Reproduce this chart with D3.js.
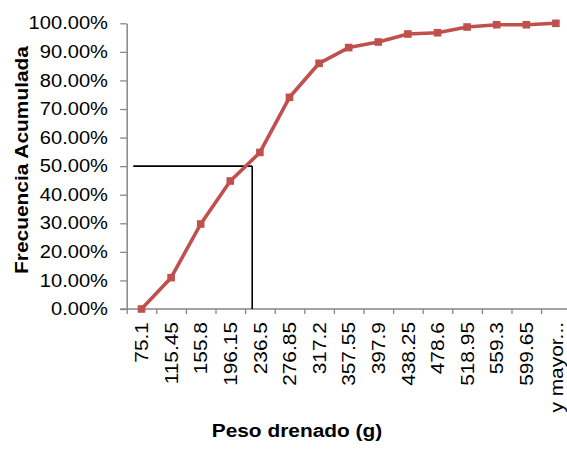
<!DOCTYPE html>
<html><head><meta charset="utf-8">
<script src="https://cdn.jsdelivr.net/npm/d3@7"></script>
<style>
html,body{margin:0;padding:0;background:#fff;}
text{font-family:Arial,"Liberation Sans",sans-serif;}
</style></head>
<body>
<svg id="chart" width="567" height="450"></svg>
<script>
const categories = ["75.1","115.45","155.8","196.15","236.5","276.85","317.2","357.55","397.9","438.25","478.6","518.95","559.3","599.65","y mayor..."];
const cumFreq = [0, 0.1097, 0.2975, 0.448, 0.548, 0.741, 0.860, 0.915, 0.9345, 0.9625, 0.967, 0.987, 0.995, 0.995, 1.0];
const yTicks = [0,0.1,0.2,0.3,0.4,0.5,0.6,0.7,0.8,0.9,1.0];
// median reference lines: category position (center index units) and percentage
const refXStart = -0.28, refXMedian = 3.74, refY = 0.5;
const xTitle = "Peso drenado (g)";
const yTitle = "Frecuencia Acumulada";

(function(){
const svg = d3.select("#chart");
const plotLeft = 126.7, bandW = 29.6, plotTop = 23.3, plotBottom = 309;
const stretch = 1.13;
const n = categories.length;
const xPos = d3.scaleLinear().domain([-0.5, n - 0.5]).range([plotLeft, plotLeft + n * bandW]);
const y = d3.scaleLinear().domain([0, 1]).range([plotBottom, plotTop]);
const axisColor = "#868686";

const xAxis = d3.axisBottom(xPos)
  .tickValues(d3.range(n + 1).map(i => i - 0.5))
  .tickFormat("").tickSize(5).tickSizeOuter(0);
const gx = svg.append("g").attr("transform", `translate(0,${plotBottom})`).call(xAxis);
gx.select(".domain").remove();
gx.selectAll(".tick line").attr("stroke", axisColor).attr("stroke-width", 1.3);
svg.append("line").attr("x1", plotLeft - 6.5).attr("x2", 567).attr("y1", plotBottom).attr("y2", plotBottom)
  .attr("stroke", axisColor).attr("stroke-width", 1.5);

svg.append("g").selectAll("text").data(categories).join("text")
  .attr("transform", (d, i) => `translate(${xPos(i)},322) rotate(-90) scale(${stretch},1)`)
  .attr("text-anchor", "end").attr("dy", "0.36em")
  .attr("font-size", "18.5px").attr("fill", "#000").text(d => d);

const yAxis = d3.axisLeft(y).tickValues(yTicks)
  .tickFormat(d => (d * 100).toFixed(2) + "%").tickSize(6.5).tickPadding(12).tickSizeOuter(0);
const gy = svg.append("g").attr("transform", `translate(${plotLeft},0)`).call(yAxis);
gy.select(".domain").attr("stroke", axisColor).attr("stroke-width", 1.5);
gy.selectAll(".tick line").attr("stroke", axisColor).attr("stroke-width", 1.3);
gy.selectAll(".tick text").attr("font-size", "17.8px").attr("fill", "#000")
  .attr("x", -18.7 / stretch).attr("transform", `scale(${stretch},1)`);

svg.append("line").attr("x1", xPos(refXStart)).attr("x2", xPos(refXMedian))
  .attr("y1", y(refY)).attr("y2", y(refY)).attr("stroke", "#000").attr("stroke-width", 1.6);
svg.append("line").attr("x1", xPos(refXMedian)).attr("x2", xPos(refXMedian))
  .attr("y1", y(refY)).attr("y2", y(0)).attr("stroke", "#000").attr("stroke-width", 1.6);

const red = "#C0504D";
svg.append("path").datum(cumFreq)
  .attr("d", d3.line().x((d, i) => xPos(i)).y(d => y(d)))
  .attr("fill", "none").attr("stroke", red).attr("stroke-width", 3.6).attr("stroke-linejoin", "round");
svg.append("g").selectAll("rect").data(cumFreq).join("rect")
  .attr("x", (d, i) => xPos(i) - 3.8).attr("y", d => y(d) - 3.8)
  .attr("width", 7.6).attr("height", 7.6).attr("fill", red);

svg.append("text").attr("transform", `translate(297,437) scale(${stretch},1)`)
  .attr("text-anchor", "middle").attr("font-size", "18.5px").attr("font-weight", "bold")
  .text(xTitle);
svg.append("text").attr("transform", `translate(21,160) rotate(-90) scale(${stretch},1)`)
  .attr("text-anchor", "middle").attr("dy", "0.36em").attr("font-size", "18.5px").attr("font-weight", "bold")
  .text(yTitle);
})();
</script>
</body></html>
